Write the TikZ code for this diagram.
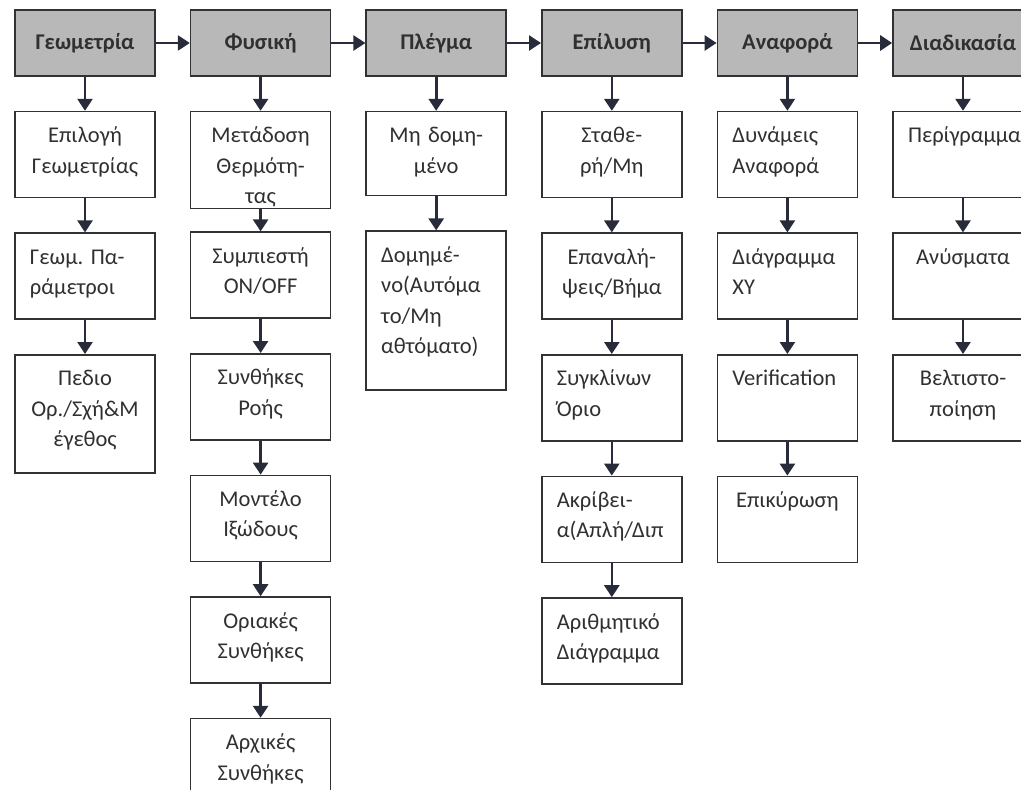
\documentclass[tikz,border=0pt]{standalone}
\usepackage{fontspec}
\setmainfont{Carlito}
\usepackage{xcolor}
\usetikzlibrary{arrows.meta,positioning}
\frenchspacing

\definecolor{headgray}{RGB}{184,184,184}
\definecolor{linegray}{RGB}{50,50,54}
\definecolor{arrowblue}{RGB}{40,44,58}
\definecolor{textgray}{RGB}{48,48,50}

\begin{document}
\begin{tikzpicture}[
  x=1pt, y=1pt,
  node distance=34pt and 34pt,
  head/.style={
    draw=linegray,
    line width=1.6pt,
    fill=headgray,
    minimum width=140pt,
    minimum height=66pt,
    inner sep=0pt,
    text=textgray,
    font=\fontsize{22.5}{26}\selectfont\bfseries
  },
  box/.style={
    draw=linegray,
    line width=1.6pt,
    minimum width=140pt,
    text width=110pt,
    inner xsep=15pt,
    inner ysep=0pt,
    align=center,
    text height=31pt,
    text depth=55pt,
    text=textgray,
    font=\fontsize{22.5}{30.5}\selectfont
  },
  lbox/.style={box,align=left},
  arrow/.style={-{Triangle[length=12pt,width=15pt]},line width=2.6pt,draw=arrowblue}
]
  \path[use as bounding box,clip] (0,0) rectangle (1021,-790);

  % top row of stages
  \node[head] (geo) at (85,-43) {Γεωμετρία};
  \node[head,right=of geo] (phys) {Φυσική};
  \node[head,right=of phys] (mesh) {Πλέγμα};
  \node[head,right=of mesh] (solve) {Επίλυση};
  \node[head,right=of solve] (report) {Αναφορά};
  \node[head,right=of report] (proc) {Διαδικασία};

  % Γεωμετρία
  \node[box,below=of geo] (geo1) {Επιλογή\\Γεωμετρίας};
  \node[lbox,below=of geo1] (geo2) {Γεωμ. Πα-\\ράμετροι};
  \node[box,below=of geo2,text depth=87pt] (geo3) {Πεδιο\\Ορ./Σχή\&Μ\\έγεθος};

  % Φυσική
  \node[box,below=of phys,text depth=66pt] (phys1) {Μετάδοση\\Θερμότη-\\τας};
  \node[box,below=22pt of phys1] (phys2) {Συμπιεστή\\ON/OFF};
  \node[box,below=of phys2] (phys3) {Συνθήκες\\Ροής};
  \node[box,below=of phys3] (phys4) {Μοντέλο\\Ιξώδους};
  \node[box,below=of phys4] (phys5) {Οριακές\\Συνθήκες};
  \node[box,below=of phys5] (phys6) {Αρχικές\\Συνθήκες};

  % Πλέγμα
  \node[box,below=of mesh,text depth=53pt] (mesh1) {Μη δομη-\\μένο};
  \node[lbox,below=of mesh1,text depth=128pt] (mesh2) {Δομημέ-\\νο(Αυτόμα\\το/Μη\\αθτόματο)};

  % Επίλυση
  \node[box,below=of solve] (solve1) {Σταθε-\\ρή/Μη};
  \node[box,below=of solve1] (solve2) {Επαναλή-\\ψεις/Βήμα};
  \node[lbox,below=of solve2] (solve3) {Συγκλίνων\\Όριο};
  \node[lbox,below=of solve3] (solve4) {Ακρίβει-\\α(Απλή/Διπ};
  \node[lbox,below=of solve4] (solve5) {Αριθμητικό\\Διάγραμμα};

  % Αναφορά
  \node[lbox,below=of report] (report1) {Δυνάμεις\\Αναφορά};
  \node[lbox,below=of report1] (report2) {Διάγραμμα\\XY};
  \node[lbox,below=of report2] (report3) {Verification};
  \node[box,below=of report3] (report4) {Επικύρωση};

  % Διαδικασία
  \node[box,below=of proc] (proc1) {Περίγραμμα};
  \node[box,below=of proc1] (proc2) {Ανύσματα};
  \node[box,below=of proc2] (proc3) {Βελτιστο-\\ποίηση};

  \draw[arrow] (geo) -- (phys);
  \draw[arrow] (phys) -- (mesh);
  \draw[arrow] (mesh) -- (solve);
  \draw[arrow] (solve) -- (report);
  \draw[arrow] (report) -- (proc);

  \draw[arrow] (geo) -- (geo1);
  \draw[arrow] (geo1) -- (geo2);
  \draw[arrow] (geo2) -- (geo3);

  \draw[arrow] (phys) -- (phys1);
  \draw[arrow] (phys1) -- (phys2);
  \draw[arrow] (phys2) -- (phys3);
  \draw[arrow] (phys3) -- (phys4);
  \draw[arrow] (phys4) -- (phys5);
  \draw[arrow] (phys5) -- (phys6);

  \draw[arrow] (mesh) -- (mesh1);
  \draw[arrow] (mesh1) -- (mesh2);

  \draw[arrow] (solve) -- (solve1);
  \draw[arrow] (solve1) -- (solve2);
  \draw[arrow] (solve2) -- (solve3);
  \draw[arrow] (solve3) -- (solve4);
  \draw[arrow] (solve4) -- (solve5);

  \draw[arrow] (report) -- (report1);
  \draw[arrow] (report1) -- (report2);
  \draw[arrow] (report2) -- (report3);
  \draw[arrow] (report3) -- (report4);

  \draw[arrow] (proc) -- (proc1);
  \draw[arrow] (proc1) -- (proc2);
  \draw[arrow] (proc2) -- (proc3);
\end{tikzpicture}
\end{document}
